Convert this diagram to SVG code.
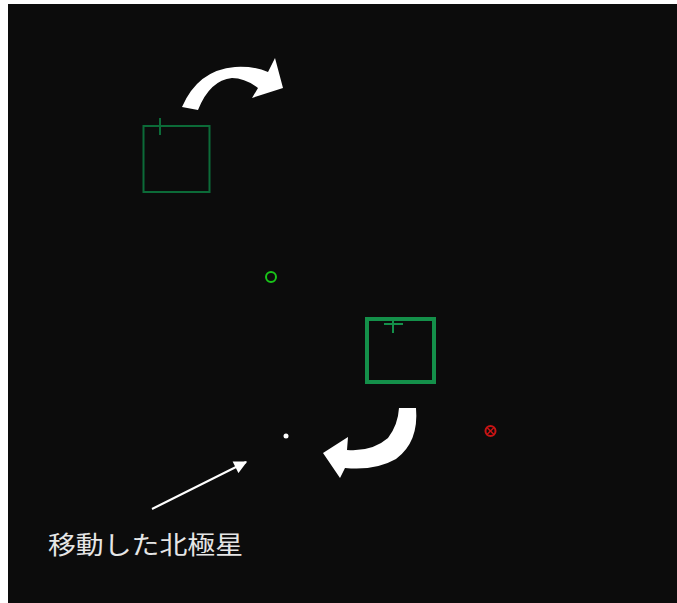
<svg xmlns="http://www.w3.org/2000/svg" width="677" height="603" viewBox="0 0 677 603">
<defs>
<style>
.bg{fill:#0c0c0c}
.rot{fill:#ffffff}
.box1{fill:none;stroke:#0c6b38;stroke-width:2}
.box2{fill:none;stroke:#14904a;stroke-width:4}
.lbl{font-family:"Noto Sans CJK JP","Noto Sans",sans-serif;font-size:25px;fill:#e6e6e6}
</style>
<marker id="ah" viewBox="0 0 10 10" refX="9" refY="5" markerWidth="7.5" markerHeight="6.5" orient="auto"><path d="M0,0 L10,5 L0,10 Z" fill="#ffffff"/></marker>
</defs>
<rect x="0" y="0" width="677" height="603" fill="#ffffff"/>
<rect class="bg" x="8" y="4" width="669" height="599"/>
<g id="rotate-top">
<path class="rot" d="M182,107 Q198,70 235,67 Q255,66 268,72 L275,58 L283,88 L252,98 L258,88 Q245,78 232,78 Q210,80 198,110 Z"/>
</g>
<g id="rotate-bottom">
<path class="rot" d="M399,408 L416,408 Q419,442 396,459 Q375,471 345,468 L340,478 L323,453 L348,437 L347,450 Q372,452 388,438 Q398,425 399,408 Z"/>
</g>
<g id="frame-old">
<rect class="box1" x="143.5" y="126" width="66" height="66"/>
<line x1="160" y1="118" x2="160" y2="135" stroke="#0c6b38" stroke-width="2"/>
</g>
<g id="frame-new">
<rect class="box2" x="367" y="319" width="67" height="63"/>
<line x1="384" y1="324" x2="403" y2="324" stroke="#14904a" stroke-width="2"/>
<line x1="393" y1="320" x2="393" y2="333" stroke="#14904a" stroke-width="2"/>
</g>
<g id="green-target">
<circle cx="271" cy="277" r="5" fill="none" stroke="#19c419" stroke-width="2"/>
</g>
<g id="red-target">
<circle cx="490.5" cy="431" r="5" fill="none" stroke="#c81414" stroke-width="2"/>
<line x1="487" y1="427.5" x2="494" y2="434.5" stroke="#c81414" stroke-width="1.5"/>
<line x1="494" y1="427.5" x2="487" y2="434.5" stroke="#c81414" stroke-width="1.5"/>
</g>
<g id="polaris">
<circle cx="286" cy="436" r="2.5" fill="#ffffff"/>
</g>
<g id="connectors">
<line x1="152" y1="509" x2="246" y2="462" stroke="#ffffff" stroke-width="2" marker-end="url(#ah)"/>
</g>
<g id="label">
<text class="lbl" x="48" y="554" textLength="195" lengthAdjust="spacingAndGlyphs">移動した北極星</text>
</g>
</svg>
